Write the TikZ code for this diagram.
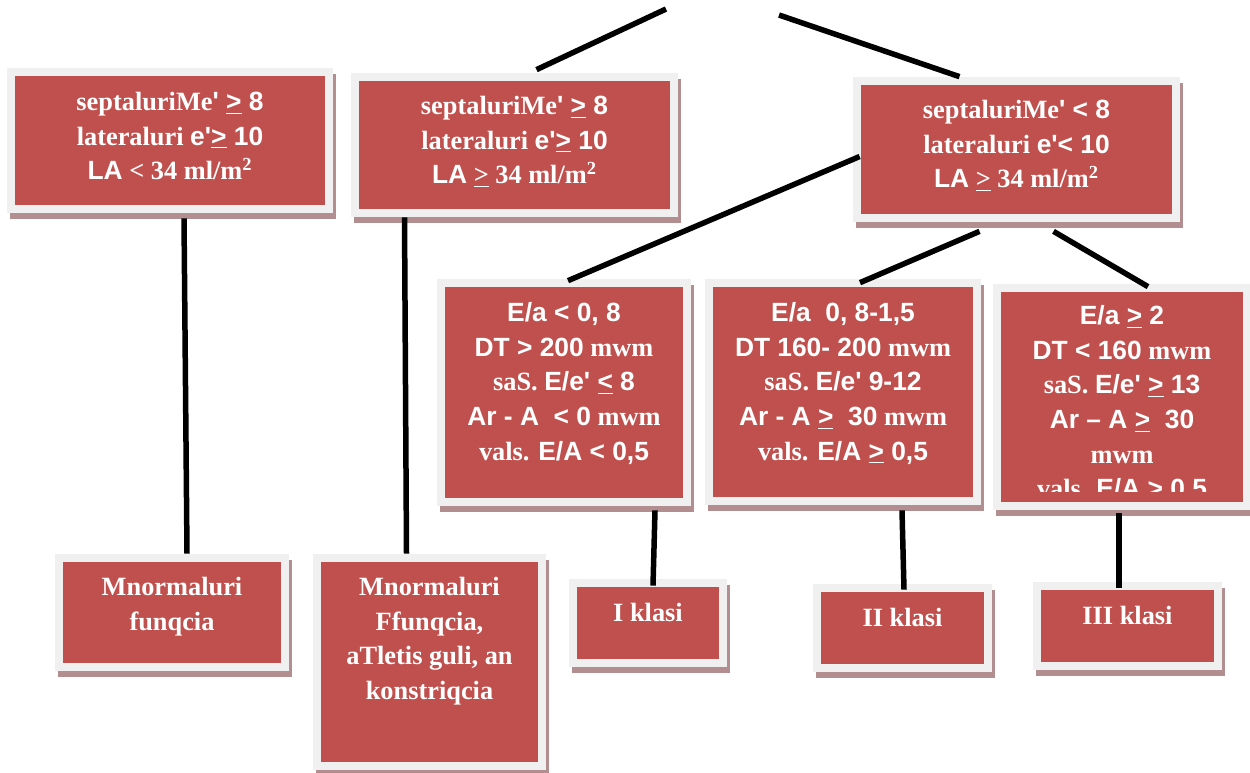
\documentclass[tikz,border=0pt]{standalone}
\usepackage{fontspec}
\setmainfont{Liberation Serif}
\setsansfont{Liberation Sans}
\usetikzlibrary{shadows,calc}

\definecolor{boxred}{RGB}{192,80,77}
\definecolor{framegray}{RGB}{240,240,240}
\definecolor{shadowpink}{RGB}{178,142,144}
\newcommand{\rows}[1]{\begin{tabular}[t]{@{}c@{}}#1\end{tabular}}
\newcommand{\ap}{\textquotesingle}

\begin{document}
\begin{tikzpicture}
[
x=0.02cm, y=-0.02cm,
dims/.style 2 args={minimum width=#1*0.02cm, minimum height=#2*0.02cm},
box/.style={rectangle, fill=framegray, inner sep=0pt,
	drop shadow={shadow xshift=0.06cm, shadow yshift=-0.12cm, fill=shadowpink, opacity=1},
	path picture={\fill[boxred] ([shift={(0.16cm,0.16cm)}]path picture bounding box.south west)
		rectangle ([shift={(-0.16cm,-0.16cm)}]path picture bounding box.north east);}},
words/.style={inner sep=0pt, anchor=base, text=white, font=\fontsize{15}{19.7}\selectfont\bfseries},
link/.style={line width=0.11cm}
]
\useasboundingbox (0,0) rectangle (1250,772);

\node[box, dims={326}{145}] (norm) at (170,140.5) {};
\node[box, dims={327}{144}] (athl) at (514.5,145) {};
\node[box, dims={327}{145}] (dysf) at (1016.5,149.5) {};
\node[box, dims={254}{227}] (impair) at (564,392.5) {};
\node[box, dims={276}{226}] (pseudo) at (843,392) {};
\node[box, dims={258}{226}] (restrict) at (1122,397) {};
\node[box, dims={234}{117}] (normres) at (172,612.5) {};
\node[box, dims={233}{216}] (athres) at (429.5,662) {};
\node[box, dims={158}{88}] (cls1) at (648,623) {};
\node[box, dims={179}{88}] (cls2) at (902.5,628) {};
\node[box, dims={189}{88}] (cls3) at (1127.5,626) {};

\node[words] (norm-t) at ($(norm.north)+(0,43)$) {\rows{septaluriMe\textsf{\ap{} \underline{>} 8}\\
	lateraluri \textsf{e\ap\underline{>} 10}\\
	\textsf{LA} < 34 ml/m\textsuperscript{2}}};
\node[words] (athl-t) at ($(athl.north)+(0,42)$) {\rows{septaluriMe\textsf{\ap{} \underline{>} 8}\\
	lateraluri \textsf{e\ap\underline{>} 10}\\
	\textsf{LA} \underline{>} 34 ml/m\textsuperscript{2}}};
\node[words] (dysf-t) at ($(dysf.north)+(0,42)$) {\rows{septaluriMe\textsf{\ap{} < 8}\\
	lateraluri \textsf{e\ap< 10}\\
	\textsf{LA} \underline{>} 34 ml/m\textsuperscript{2}}};
\node[words] (impair-t) at ($(impair.north)+(0,43)$) {\rows{\textsf{E/a < 0, 8}\\
	\textsf{DT > 200} mwm\\
	saS. \textsf{E/e\ap{} \underline{<} 8}\\
	\textsf{Ar - A~ < 0} mwm\\
	vals. \textsf{E/A < 0,5}}};
\node[words] (pseudo-t) at ($(pseudo.north)+(0,43)$) {\rows{\textsf{E/a~ 0, 8-1,5}\\
	\textsf{DT 160- 200} mwm\\
	saS. \textsf{E/e\ap{} 9-12}\\
	\textsf{Ar - A \underline{>}~ 30} mwm\\
	vals. \textsf{E/A \underline{>} 0,5}}};
\begin{scope}
\clip (restrict.north west) rectangle ($(restrict.south east)+(0,-19)$);
\node[words] (restrict-t) at ($(restrict.north)+(0,41)$) {\rows{\textsf{E/a \underline{>} 2}\\
	\textsf{DT < 160} mwm\\
	saS. \textsf{E/e\ap{} \underline{>} 13}\\
	\textsf{Ar – A \underline{>}~ 30}\\
	mwm\\
	vals. \textsf{E/A \underline{>} 0,5}}};
\end{scope}
\node[words] (normres-t) at ($(normres.north)+(0,42)$) {\rows{Mnormaluri\\funqcia}};
\node[words] (athres-t) at ($(athres.north)+(0,42)$) {\rows{Mnormaluri\\Ffunqcia,\\aTletis guli, an\\konstriqcia}};
\node[words] (cls1-t) at ($(cls1.north)+(0,43)$) {I klasi};
\node[words] (cls2-t) at ($(cls2.north)+(0,43)$) {II klasi};
\node[words] (cls3-t) at ($(cls3.north)+(0,43)$) {III klasi};

\coordinate (topL) at (666,9);
\coordinate (topR) at (779,15);
\draw[link] (topL) -- ($(athl.north)+(22,-3)$);
\draw[link] (topR) -- ($(dysf.north)+(-57,0)$);
\draw[link] ($(norm.south)+(14,5)$) -- ($(normres.north)+(15,0)$);
\draw[link] ($(athl.south)+(-110,0)$) -- ($(athres.north)+(-23,0)$);
\draw[link] ($(dysf.west)+(7,7)$) -- ($(impair.north)+(4,2)$);
\draw[link] ($(dysf.south)+(-37,9)$) -- ($(pseudo.north)+(17,4)$);
\draw[link] ($(dysf.south)+(37,9)$) -- ($(restrict.north)+(26,3)$);
\draw[link] ($(impair.south)+(91,4)$) -- ($(cls1.north)+(5,7)$);
\draw[link] ($(pseudo.south)+(59,5)$) -- ($(cls2.north)+(1.5,6)$);
\draw[link] ($(restrict.south)+(-3,3)$) -- ($(cls3.north)+(-8.5,6)$);
\end{tikzpicture}
\end{document}
